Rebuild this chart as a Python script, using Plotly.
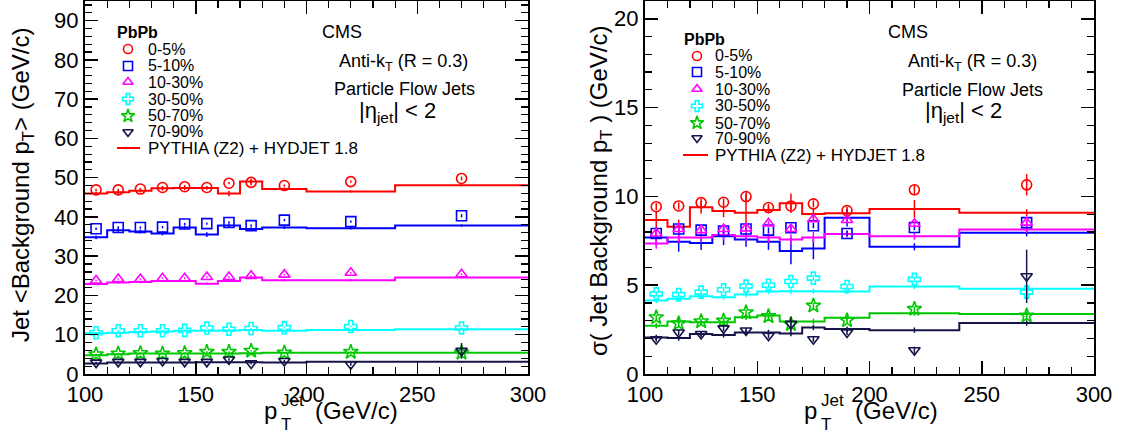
import plotly.graph_objects as go

W, H = 1124, 439
FONT = "Liberation Sans, Arial, Helvetica, sans-serif"

# ---------------- data ----------------
pt_centers = [105, 115, 125, 135, 145, 155, 165, 175, 190, 220, 270]
bin_edges = [100, 110, 120, 130, 140, 150, 160, 170, 180, 200, 240, 300]
centrality_labels = ["0-5%", "5-10%", "10-30%", "30-50%", "50-70%", "70-90%"]
mc_label = "PYTHIA (Z2) + HYDJET 1.8"
x_tick_vals = [100, 150, 200, 250, 300]

# Left panel: mean background pT (GeV/c), data
mean_data_0_5 = [46.9, 46.9, 47.1, 47.5, 47.7, 47.5, 48.6, 48.8, 48.0, 49.0, 49.8]
mean_data_5_10 = [37.0, 37.3, 37.3, 37.4, 38.2, 38.3, 38.6, 37.8, 39.2, 38.8, 40.3]
mean_data_10_30 = [23.8, 24.2, 24.2, 24.4, 24.4, 24.7, 24.7, 25.0, 25.3, 25.8, 25.4]
mean_data_30_50 = [10.5, 11.0, 11.0, 11.0, 11.1, 11.7, 11.4, 11.6, 11.8, 12.1, 11.7]
mean_data_50_70 = [5.0, 5.2, 5.3, 5.2, 5.3, 5.6, 5.6, 5.9, 5.4, 5.6, 5.4]
mean_data_70_90 = [2.9, 3.1, 3.1, 3.3, 3.1, 3.1, 3.7, 2.7, 3.3, 2.5, 5.9]
# Left panel: data errors
mean_err_0_5 = [0.3, 0.3, 0.3, 0.3, 0.4, 0.3, 0.3, 0.8, 0.3, 0.3, 0.5]
mean_err_5_10 = [0.3, 0.3, 0.3, 0.3, 0.3, 0.3, 0.3, 0.3, 0.3, 0.3, 0.4]
mean_err_10_30 = [0.2] * 11
mean_err_30_50 = [0.2] * 11
mean_err_50_70 = [0.2] * 11
mean_err_70_90 = [0.2, 0.2, 0.2, 0.2, 0.2, 0.2, 0.3, 0.3, 0.3, 0.4, 2.0]

# Left panel: PYTHIA+HYDJET (per bin)
mean_mc_0_5 = [46.0, 46.3, 46.7, 47.3, 47.4, 47.4, 46.0, 49.0, 47.1, 46.5, 48.1]
mean_mc_5_10 = [34.8, 36.6, 36.3, 35.8, 37.3, 35.5, 37.8, 36.9, 37.3, 37.1, 37.8]
mean_mc_10_30 = [22.9, 23.3, 23.4, 23.7, 23.7, 23.0, 23.7, 24.6, 23.9, 23.9, 24.6]
mean_mc_30_50 = [10.4, 10.5, 10.7, 10.8, 11.0, 11.0, 11.1, 11.2, 11.0, 11.2, 11.4]
mean_mc_50_70 = [4.8, 5.0, 5.2, 5.2, 5.2, 5.2, 5.2, 5.3, 5.4, 5.4, 5.4]
mean_mc_70_90 = [2.7, 2.9, 2.9, 2.9, 2.9, 3.0, 3.0, 3.0, 2.9, 3.1, 3.1]
mean_mc_err_0_5 = [0.5, 0.5, 0.5, 0.6, 0.6, 0.5, 0.7, 0.6, 0.4, 0.3, 0.3]
mean_mc_err_5_10 = [0.5, 0.5, 0.5, 0.5, 0.5, 0.6, 0.5, 0.5, 0.4, 0.3, 0.3]
mean_mc_err_10_30 = [0.3] * 11
mean_mc_err_30_50 = [0.2] * 11
mean_mc_err_50_70 = [0.2] * 11
mean_mc_err_70_90 = [0.2] * 11

# Right panel: sigma of background pT (GeV/c), data
sig_data_0_5 = [9.42, 9.46, 9.65, 9.67, 9.99, 9.37, 9.46, 9.58, 9.20, 10.37, 10.65]
sig_data_5_10 = [7.91, 8.16, 8.10, 8.05, 8.16, 8.10, 8.23, 8.35, 7.91, 8.25, 8.52]
sig_data_10_30 = [7.91, 8.16, 8.10, 8.16, 8.20, 8.48, 8.16, 8.72, 8.67, 8.46, 8.52]
sig_data_30_50 = [4.51, 4.47, 4.61, 4.74, 4.95, 5.00, 5.21, 5.40, 4.93, 5.33, 4.61]
sig_data_50_70 = [3.19, 2.85, 2.96, 3.00, 3.47, 3.25, 2.81, 3.85, 3.02, 3.66, 3.29]
sig_data_70_90 = [1.96, 2.34, 2.25, 2.57, 2.45, 2.15, 2.82, 1.96, 2.34, 1.34, 5.50]
sig_err_0_5 = [0.2, 0.2, 0.2, 0.2, 0.3, 0.2, 0.2, 0.2, 0.2, 0.3, 0.6]
sig_err_5_10 = [0.15] * 11
sig_err_10_30 = [0.15] * 11
sig_err_30_50 = [0.15] * 11
sig_err_50_70 = [0.15] * 11
sig_err_70_90 = [0.15, 0.15, 0.15, 0.15, 0.15, 0.15, 0.4, 0.15, 0.15, 0.2, 1.5]

# Right panel: PYTHIA+HYDJET
sig_mc_0_5 = [8.67, 8.29, 9.39, 9.18, 9.08, 9.24, 9.61, 9.01, 9.05, 9.29, 9.08]
sig_mc_5_10 = [7.69, 7.44, 7.38, 7.76, 7.57, 7.44, 6.93, 7.06, 8.80, 7.16, 7.95]
sig_mc_10_30 = [7.35, 7.69, 7.69, 7.82, 7.76, 7.69, 7.57, 7.69, 7.88, 7.76, 8.14]
sig_mc_30_50 = [4.14, 4.23, 4.38, 4.32, 4.47, 4.65, 4.66, 4.66, 4.65, 4.93, 4.80]
sig_mc_50_70 = [2.72, 2.96, 2.91, 2.91, 3.19, 3.29, 2.96, 2.96, 3.16, 3.42, 3.38]
sig_mc_70_90 = [2.06, 2.02, 2.25, 2.20, 2.34, 2.34, 2.28, 2.62, 2.53, 2.47, 2.87]
sig_mc_err_0_5 = [0.5, 0.4, 0.35, 0.35, 1.0, 0.2, 0.55, 0.3, 0.2, 0.5, 0.2]
sig_mc_err_5_10 = [0.45, 0.55, 0.4, 0.5, 0.4, 0.45, 0.75, 0.6, 0.5, 0.2, 0.2]
sig_mc_err_10_30 = [0.3, 0.3, 0.3, 0.3, 0.3, 0.3, 0.3, 0.3, 0.2, 0.2, 0.2]
sig_mc_err_30_50 = [0.15] * 11
sig_mc_err_50_70 = [0.15] * 11
sig_mc_err_70_90 = [0.15] * 11

mean_data = [mean_data_0_5, mean_data_5_10, mean_data_10_30, mean_data_30_50, mean_data_50_70, mean_data_70_90]
mean_err = [mean_err_0_5, mean_err_5_10, mean_err_10_30, mean_err_30_50, mean_err_50_70, mean_err_70_90]
mean_mc = [mean_mc_0_5, mean_mc_5_10, mean_mc_10_30, mean_mc_30_50, mean_mc_50_70, mean_mc_70_90]
mean_mc_err = [mean_mc_err_0_5, mean_mc_err_5_10, mean_mc_err_10_30, mean_mc_err_30_50, mean_mc_err_50_70, mean_mc_err_70_90]
sig_data = [sig_data_0_5, sig_data_5_10, sig_data_10_30, sig_data_30_50, sig_data_50_70, sig_data_70_90]
sig_err = [sig_err_0_5, sig_err_5_10, sig_err_10_30, sig_err_30_50, sig_err_50_70, sig_err_70_90]
sig_mc = [sig_mc_0_5, sig_mc_5_10, sig_mc_10_30, sig_mc_30_50, sig_mc_50_70, sig_mc_70_90]
sig_mc_err = [sig_mc_err_0_5, sig_mc_err_5_10, sig_mc_err_10_30, sig_mc_err_30_50, sig_mc_err_50_70, sig_mc_err_70_90]

# ---------------- styles ----------------
colors = ["#ff0000", "#0000ff", "#ff00ff", "#00ffff", "#00c800", "#14144a"]
symbols = ["circle-open", "square-open", "triangle-up-open", "cross-open", "star-open", "triangle-down-open"]
msizes = [10, 10, 10, 10, 11, 10]

fig = go.Figure()


def add_panel(xa, ya, data, derr, mc, mcerr):
    for i in range(len(data)):
        c = colors[i]
        fig.add_trace(go.Scatter(
            x=bin_edges, y=mc[i] + [mc[i][-1]], mode="lines", line_shape="hv",
            line=dict(color=c, width=2), xaxis=xa, yaxis=ya, showlegend=False,
            hoverinfo="skip"))
        fig.add_trace(go.Scatter(
            x=pt_centers, y=mc[i], mode="markers",
            marker=dict(size=1, color="rgba(0,0,0,0)"),
            error_y=dict(type="data", array=mcerr[i], width=0, thickness=1.5, color=c),
            xaxis=xa, yaxis=ya, showlegend=False, hoverinfo="skip"))
    for i in range(len(data)):
        c = colors[i]
        fig.add_trace(go.Scatter(
            x=pt_centers, y=data[i], mode="markers",
            marker=dict(symbol=symbols[i], size=msizes[i], color=c, line=dict(color=c, width=1.6)),
            error_y=dict(type="data", array=derr[i], width=0, thickness=1.5, color=c),
            xaxis=xa, yaxis=ya, showlegend=False, name=centrality_labels[i]))


add_panel("x", "y", mean_data, mean_err, mean_mc, mean_mc_err)
add_panel("x2", "y2", sig_data, sig_err, sig_mc, sig_mc_err)

# ---------------- legends (manual, pixel layout) ----------------
legend_specs = [
    dict(title=(115, 32), mx=128, tx=146, rows=[49, 66, 82, 99, 116, 132, 148], line=(117, 140)),
    dict(title=(682, 39), mx=697, tx=713, rows=[56, 72, 89, 106, 123, 138, 155], line=(683, 708)),
]
annotations = []
shapes = []
LEG_FS = 16
for spec in legend_specs:
    tx0, ty0 = spec["title"]
    annotations.append(dict(x=tx0 / W, y=1 - ty0 / H, xref="paper", yref="paper", xanchor="left",
                            yanchor="middle", text="<b>PbPb</b>", showarrow=False,
                            font=dict(family=FONT, size=LEG_FS, color="black")))
    for i, lab in enumerate(centrality_labels):
        ry = spec["rows"][i]
        fig.add_trace(go.Scatter(
            x=[spec["mx"]], y=[ry], mode="markers", xaxis="x3", yaxis="y3",
            marker=dict(symbol=symbols[i], size=msizes[i] - 1, color=colors[i],
                        line=dict(color=colors[i], width=1.6)),
            showlegend=False, hoverinfo="skip"))
        annotations.append(dict(x=spec["tx"] / W, y=1 - ry / H, xref="paper", yref="paper",
                                xanchor="left", yanchor="middle", text=lab, showarrow=False,
                                font=dict(family=FONT, size=LEG_FS, color="black")))
    ry = spec["rows"][-1]
    x0, x1 = spec["line"]
    shapes.append(dict(type="line", xref="paper", yref="paper", x0=x0 / W, x1=x1 / W,
                       y0=1 - ry / H, y1=1 - ry / H, line=dict(color=colors[0], width=2)))
    annotations.append(dict(x=spec["tx"] / W, y=1 - ry / H, xref="paper", yref="paper",
                            xanchor="left", yanchor="middle", text=mc_label, showarrow=False,
                            font=dict(family=FONT, size=LEG_FS + 1, color="black")))

# ---------------- text labels ----------------
TXT_FS = 18
panel_texts = [
    [(342, 32, "CMS"), (403, 63, "Anti-k<sub>T</sub> (R = 0.3)"),
     (404, 89, "Particle Flow Jets"), (397, 112, "|η<sub>jet</sub>| &lt; 2")],
    [(908, 32, "CMS"), (972, 63, "Anti-k<sub>T</sub> (R = 0.3)"),
     (972, 90, "Particle Flow Jets"), (963, 112, "|η<sub>jet</sub>| &lt; 2")],
]
for pts in panel_texts:
    for (px, py, t) in pts:
        annotations.append(dict(x=px / W, y=1 - py / H, xref="paper", yref="paper", xanchor="center",
                                yanchor="middle", text=t, showarrow=False,
                                font=dict(family=FONT, size=TXT_FS if "η" not in t else 22, color="black")))

TITLE_FS = 24
annotations += [
    dict(x=22 / W, y=1 - 185 / H, xref="paper", yref="paper", textangle=-90, xanchor="center",
         yanchor="middle", showarrow=False, text="Jet &lt;Background p<sub>T</sub>&gt; (GeV/c)",
         font=dict(family=FONT, size=TITLE_FS, color="black")),
    dict(x=600 / W, y=1 - 190 / H, xref="paper", yref="paper", textangle=-90, xanchor="center",
         yanchor="middle", showarrow=False, text="σ( Jet Background p<sub>T</sub> ) (GeV/c)",
         font=dict(family=FONT, size=TITLE_FS, color="black")),
]
# x-axis titles: "p" with stacked "Jet" superscript and "T" subscript, then units
for x0 in (263, 803):
    pieces = [
        (x0, 410, "p", TITLE_FS),
        (x0 + 17, 400, "Jet", 17),
        (x0 + 17, 424, "T", 17),
        (x0 + 51, 410, "(GeV/c)", TITLE_FS),
    ]
    for (px, py, t, fs) in pieces:
        annotations.append(dict(x=px / W, y=1 - py / H, xref="paper", yref="paper",
                                xanchor="left", yanchor="middle", showarrow=False, text=t,
                                borderpad=0, font=dict(family=FONT, size=fs, color="black")))

# ---------------- axes ----------------
TICK_FS = 22


def axis(rng, dtick, minor_dtick, domain, anchor, tickvals=None):
    d = dict(range=rng, domain=domain, anchor=anchor, showline=True, linecolor="black", linewidth=2,
             mirror="ticks", ticks="inside", ticklen=13, tickwidth=1.5, tickcolor="black",
             showgrid=False, zeroline=False, automargin=False, fixedrange=True,
             tickfont=dict(family=FONT, size=TICK_FS, color="black"),
             minor=dict(ticks="inside", dtick=minor_dtick, ticklen=7, tickwidth=1.2,
                        tickcolor="black", showgrid=False))
    if tickvals is not None:
        d.update(tickmode="array", tickvals=tickvals)
    else:
        d.update(dtick=dtick, tick0=0)
    return d


ydom = [1 - 374 / H, 1 - 1 / H]
fig.update_layout(
    width=W, height=H, margin=dict(l=0, r=0, t=0, b=0),
    paper_bgcolor="white", plot_bgcolor="rgba(0,0,0,0)", showlegend=False,
    xaxis=axis([100, 300], 50, 10, [85 / W, 528 / W], "y", x_tick_vals),
    yaxis=axis([0, 95], 10, 2, ydom, "x"),
    xaxis2=axis([100, 300], 50, 10, [645 / W, 1094 / W], "y2", x_tick_vals),
    yaxis2=axis([0, 21], 5, 1, ydom, "x2"),
    xaxis3=dict(range=[0, W], domain=[0, 1], anchor="y3", visible=False, fixedrange=True),
    yaxis3=dict(range=[H, 0], domain=[0, 1], anchor="x3", visible=False, fixedrange=True),
    annotations=annotations, shapes=shapes,
)
fig.update_xaxes(minor=dict(tick0=100))

fig.write_html("out.html", config={"displayModeBar": False, "staticPlot": True},
               post_script="document.body.style.margin='0';document.body.style.overflow='hidden';")
